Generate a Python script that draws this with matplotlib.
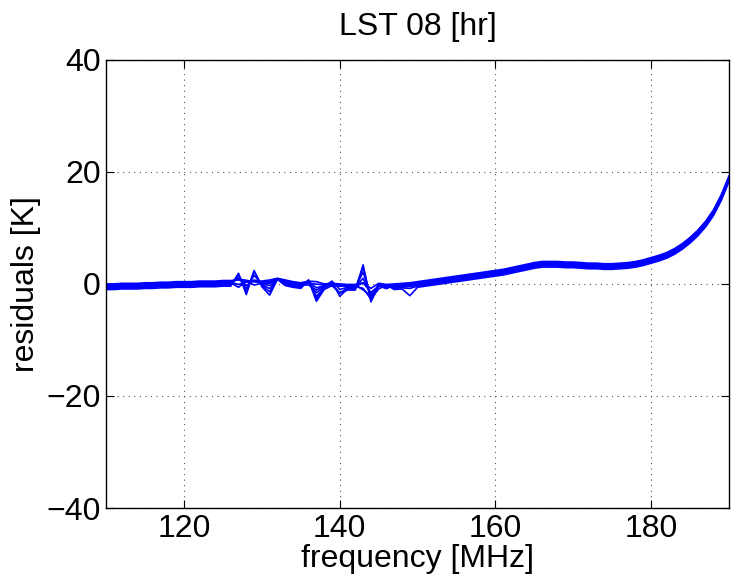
import matplotlib
matplotlib.use("Agg")
import matplotlib.pyplot as plt
import numpy as np

plt.rcParams['font.family'] = ['Liberation Sans', 'DejaVu Sans']

# frequency channels [MHz]
freq = np.arange(110, 191, 1)

# mean residual curve [K], one value per channel
base = [-0.4, -0.4, -0.3, -0.3, -0.3, -0.2, -0.2, -0.1, -0.1, 0.0,
        0.0, 0.0, 0.1, 0.1, 0.1, 0.2, 0.2, 0.3, 0.2, 0.2,
        0.1, 0.2, 0.4, 0.3, 0.0, -0.2, 0.1, -0.3, -0.4, -0.3,
        -0.4, -0.5, -0.5, -0.4, -0.6, -0.6, -0.5, -0.4, -0.3, -0.2,
        0.0, 0.2, 0.4, 0.6, 0.8, 1.0, 1.2, 1.4, 1.6, 1.8,
        2.0, 2.2, 2.5, 2.8, 3.1, 3.4, 3.6, 3.6, 3.6, 3.5,
        3.5, 3.4, 3.3, 3.3, 3.2, 3.2, 3.3, 3.4, 3.6, 3.9,
        4.3, 4.7, 5.2, 5.9, 6.8, 7.9, 9.2, 10.8, 12.8, 15.5,
        18.9]

# small per-line offsets that give the band its thickness
offsets = [-0.6, -0.4, -0.25, -0.1, 0.0, 0.1, 0.25, 0.4]

# noisy channels and the extra deviation of each line there
spike_freq = [127, 128, 129, 131, 132, 136, 137, 139, 140, 143, 144, 145, 146, 149]
spikes = [
    [2.2, -1.5, 2.8, -1.6, 1.0, 1.2, -2.2, 0.6, -0.6, 4.4, -2.0, 0.8, 0.9, -1.3],
    [1.8, -1.2, 2.4, -1.2, 0.9, 1.0, -2.0, 1.1, -1.4, 3.8, -1.7, 1.0, 0.6, -0.2],
    [1.4, -0.8, 1.6, -0.8, 0.8, 0.7, -1.7, 0.5, -1.0, 2.8, -1.5, 0.6, 0.3, 0.0],
    [0.8, -0.4, 0.6, -0.4, 0.6, 0.5, -1.2, 0.9, -0.5, 1.5, -1.2, 0.4, 0.1, 0.0],
    [-0.9, 0.3, -0.4, 0.1, 0.5, -0.3, -0.8, 0.4, 0.2, 0.6, -0.9, 0.2, -0.2, 0.0],
    [-0.5, 0.0, 0.2, -0.2, 0.4, 0.2, -0.5, -0.2, 0.1, -0.5, -2.2, -0.4, 0.2, 0.0],
    [0.3, 0.2, -0.1, 0.0, 0.3, -0.2, 0.0, 0.2, -0.3, -0.9, -1.8, 0.0, -0.6, 0.0],
    [0.0, -0.2, 0.0, 0.1, 0.2, 0.0, 0.3, 0.0, 0.0, 0.2, -0.6, 0.3, 0.0, 0.0],
]

fig = plt.figure(figsize=(7.32, 5.8), dpi=100)
ax = fig.add_axes([0.145, 0.124, 0.851, 0.773])

idx = [list(freq).index(f) for f in spike_freq]
for off, sp in zip(offsets, spikes):
    y = np.array(base) + off
    y[idx] += np.array(sp)
    ax.plot(freq, y, color='#0000ff', lw=1.2)

ax.set_xlim(110, 190)
ax.set_ylim(-40, 40)
ax.set_xticks([120, 140, 160, 180])
ax.set_yticks([-40, -20, 0, 20, 40])
ax.set_yticklabels(['\u221240', '\u221220', '0', '20', '40'])
ax.grid(True, linestyle=(0, (1, 4)), color='#555555', lw=0.8)
ax.tick_params(direction='in', top=True, right=True, labelsize=23, length=6, pad=4)
for s in ax.spines.values():
    s.set_linewidth(1.0)

ax.set_xlabel('frequency [MHz]', fontsize=23, labelpad=0)
ax.set_ylabel('residuals [K]', fontsize=23, labelpad=4)
ax.set_title('LST 08 [hr]', fontsize=23, pad=18)

fig.savefig('out.png', dpi=100)
